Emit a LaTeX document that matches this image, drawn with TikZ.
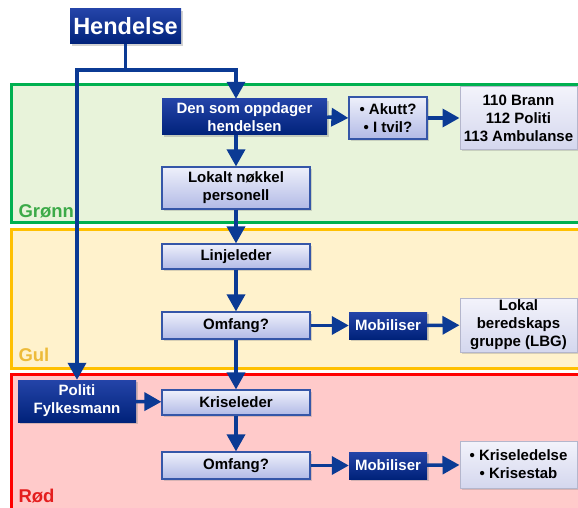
\documentclass[tikz,border=0pt]{standalone}
\usepackage{fontspec}
\setmainfont{Liberation Sans}
\usetikzlibrary{arrows.meta,shadows}

\definecolor{flowblue}{HTML}{0B3A94}
\definecolor{darktop}{HTML}{2444A8}
\definecolor{darkbot}{HTML}{00227A}
\definecolor{lighttop}{HTML}{EEF0FB}
\definecolor{lightbot}{HTML}{B2BAE6}
\definecolor{lightedge}{HTML}{3556A8}
\definecolor{infotop}{HTML}{F3F3FB}
\definecolor{infobot}{HTML}{D4D7EE}
\definecolor{infoedge}{HTML}{B4B6CC}
\definecolor{greenline}{HTML}{00B050}
\definecolor{greenfill}{HTML}{E8F3DA}
\definecolor{greentext}{HTML}{3CAA48}
\definecolor{yellowline}{HTML}{FFC000}
\definecolor{yellowfill}{HTML}{FFF2CC}
\definecolor{yellowtext}{HTML}{EDBB3A}
\definecolor{redline}{HTML}{FF0000}
\definecolor{redfill}{HTML}{FFCACA}
\definecolor{redtext}{HTML}{E41E1E}

\tikzset{
  boxfont/.style={font=\bfseries\fontsize{15}{18}\selectfont},
  darkbox/.style={boxfont, text=white, top color=darktop, bottom color=darkbot,
    inner sep=0pt, align=center,
    drop shadow={shadow xshift=2pt, shadow yshift=-2pt, opacity=0.35}},
  lightbox/.style={boxfont, draw=lightedge, line width=1.2pt, top color=lighttop,
    bottom color=lightbot, inner sep=0pt, align=center,
    drop shadow={shadow xshift=2pt, shadow yshift=-2pt, opacity=0.3}},
  infobox/.style={boxfont, draw=infoedge, line width=1pt, top color=infotop,
    bottom color=infobot, inner sep=0pt, align=center,
    drop shadow={shadow xshift=2pt, shadow yshift=-2pt, opacity=0.3}},
  zonelabel/.style={anchor=west, font=\bfseries\fontsize{18.5}{20}\selectfont},
  flow/.style={draw=flowblue, line width=3.5pt,
    -{Triangle[width=18pt,length=17pt]}},
}

\begin{document}
\begin{tikzpicture}[x=1pt, y=-1pt]
    \clip (0,0) rectangle (578,508);

    % Zones: green, yellow, red
    \draw[line width=3pt, draw=greenline, fill=greenfill] (11,85) rectangle (600,222);
    \draw[line width=3pt, draw=yellowline, fill=yellowfill] (11,229) rectangle (600,368);
    \draw[line width=3pt, draw=redline, fill=redfill] (11,374) rectangle (600,530);
    \node[zonelabel, text=greentext] (gronn) at (15,211) {Grønn};
    \node[zonelabel, text=yellowtext] (gul) at (15,355) {Gul};
    \node[zonelabel, text=redtext] (rod) at (15,496) {Rød};

    % Main column
    \node[darkbox, font=\bfseries\fontsize{23.5}{26}\selectfont,
          minimum width=111pt, minimum height=35pt] (hend) at (125.5,26.5) {Hendelse};
    \node[darkbox, minimum width=165pt, minimum height=36pt] (finder) at (244.5,117) {Den som oppdager\\hendelsen};
    \node[lightbox, minimum width=148pt, minimum height=42pt] (lokalt) at (236,188) {Lokalt nøkkel\\personell};
    \node[lightbox, minimum width=148pt, minimum height=25pt] (linje) at (236,256.5) {Linjeleder};
    \node[lightbox, minimum width=148pt, minimum height=27pt] (omfangA) at (236,325.5) {Omfang?};
    \node[lightbox, minimum width=148pt, minimum height=25pt] (krise) at (236,402.5) {Kriseleder};
    \node[lightbox, minimum width=148pt, minimum height=27pt] (omfangB) at (236,465.5) {Omfang?};
    \node[darkbox, minimum width=118pt, minimum height=42pt] (politi) at (77,401) {Politi\\Fylkesmann};

    % Right side
    \node[lightbox, minimum width=78pt, minimum height=42pt] (akutt) at (388,118) {• Akutt?\\• I tvil?};
    \node[infobox, minimum width=117pt, minimum height=62pt] (nodnr) at (518.5,118) {110 Brann\\112 Politi\\113 Ambulanse};
    \node[darkbox, minimum width=78pt, minimum height=27pt] (mobA) at (388,325.5) {Mobiliser};
    \node[infobox, minimum width=117pt, minimum height=54pt] (lbg) at (518.5,325) {Lokal\\beredskaps\\gruppe (LBG)};
    \node[darkbox, minimum width=78pt, minimum height=27pt] (mobB) at (388,465.5) {Mobiliser};
    \node[infobox, minimum width=117pt, minimum height=47pt] (stab) at (518.5,464.5) {• Kriseledelse\\• Krisestab};

    % Connectors
    \coordinate (split) at (125.5,70);
    \draw[flow] (hend.south) -- (split) -| (finder.north -| lokalt.north);
    \draw[flow] (split) -| (politi.north);
    \draw[flow] (finder.south -| lokalt.north) -- (lokalt.north);
    \draw[flow] (lokalt) -- (linje);
    \draw[flow] (linje) -- (omfangA);
    \draw[flow] (omfangA) -- (krise);
    \draw[flow] (krise) -- (omfangB);
    \draw[flow] (politi) -- (krise);
    \draw[flow] (finder.east) -- (akutt.west);
    \draw[flow] (akutt) -- (nodnr);
    \draw[flow] (omfangA) -- (mobA);
    \draw[flow] (mobA) -- (lbg);
    \draw[flow] (omfangB) -- (mobB);
    \draw[flow] (mobB) -- (stab);
\end{tikzpicture}
\end{document}
